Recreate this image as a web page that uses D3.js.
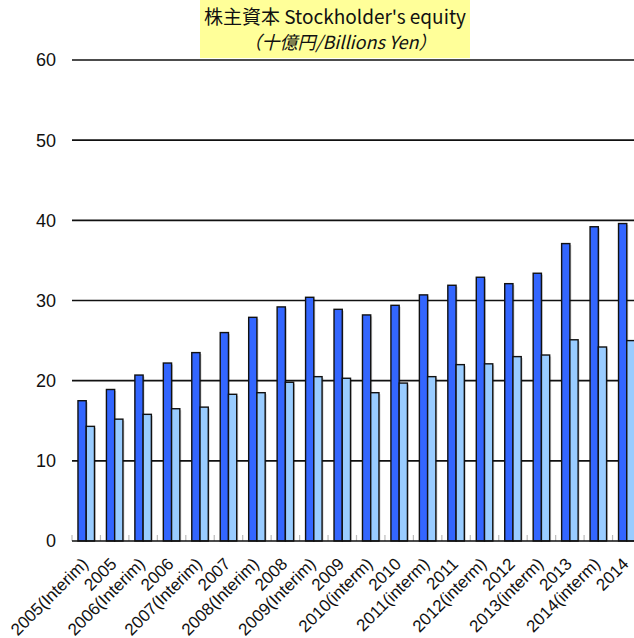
<!DOCTYPE html>
<html><head><meta charset="utf-8">
<script src="https://cdn.jsdelivr.net/npm/d3@7"></script>
<style>body{margin:0;background:#fff;overflow:hidden}svg{display:block}</style>
</head><body>
<script>
const categories = ["2005(Interim)","2005","2006(Interim)","2006","2007(Interim)","2007","2008(Interim)","2008","2009(Interim)","2009","2010(interm)","2010","2011(interm)","2011","2012(interm)","2012","2013(interm)","2013","2014(interm)","2014"];
const seriesDark = [17.5,18.9,20.7,22.2,23.5,26.0,27.9,29.2,30.4,28.9,28.2,29.4,30.7,31.9,32.9,32.1,33.4,37.1,39.2,39.6];
const seriesLight = [14.3,15.2,15.8,16.5,16.7,18.3,18.5,19.8,20.5,20.3,18.5,19.7,20.5,22.0,22.1,23.0,23.2,25.1,24.2,25.0];
const yTicks = [0,10,20,30,40,50,60];
const titleLine1 = "株主資本 Stockholder's equity";
const titleLine2 = "（十億円/Billions Yen）";

const W = 634, H = 638;
const left = 72, step = 28.45, right = left + step * categories.length;
const y0 = 541, yTop = 60;

const svg = d3.select("body").append("svg").attr("width", W).attr("height", H);

const x = d3.scaleBand().domain(categories).range([left, right]).paddingInner(0.42).paddingOuter(0.21);
const y = d3.scaleLinear().domain([0, 60]).range([y0, yTop]);
const keys = ["dark", "light"];
const x1 = d3.scaleBand().domain(keys).range([0, x.bandwidth()]);
const colors = {dark: "#3366FF", light: "#99CCFF"};

// gridlines
svg.append("g").selectAll("line").data(yTicks.filter(d => d > 0)).join("line")
  .attr("x1", left).attr("x2", W).attr("y1", d => y(d)).attr("y2", d => y(d))
  .attr("stroke", "#111").attr("stroke-width", 1.6);

// y labels
svg.append("g").selectAll("text").data(yTicks).join("text")
  .attr("x", 56).attr("y", d => y(d)).attr("dy", "0.36em").attr("text-anchor", "end")
  .attr("font-family", "Liberation Sans, Arial, sans-serif").attr("font-size", 18).attr("fill", "#111")
  .text(d => d);

// minor ticks at band boundaries
const bounds = d3.range(categories.length + 1).map(i => left + i * step);
svg.append("g").selectAll("line").data(bounds).join("line")
  .attr("x1", d => d).attr("x2", d => d).attr("y1", y0 - 6).attr("y2", y0)
  .attr("stroke", "#bbb").attr("stroke-width", 1.2);

const data = categories.map((c, i) => ({c, dark: seriesDark[i], light: seriesLight[i]}));

const g = svg.append("g");
data.forEach(d => {
  keys.forEach(k => {
    g.append("rect")
      .attr("x", x(d.c) + x1(k) + 1.5).attr("y", y(d[k]) + 1.5)
      .attr("width", x1.bandwidth()).attr("height", y0 - y(d[k]) - 1.5)
      .attr("fill", "#000").attr("opacity", 0.18);
  });
});
data.forEach(d => {
  keys.forEach(k => {
    g.append("rect")
      .attr("x", x(d.c) + x1(k)).attr("y", y(d[k]))
      .attr("width", x1.bandwidth()).attr("height", y0 - y(d[k]))
      .attr("fill", colors[k]).attr("stroke", "#111").attr("stroke-width", 1.4);
  });
});

// baseline
svg.append("line").attr("x1", left).attr("x2", W).attr("y1", y0).attr("y2", y0)
  .attr("stroke", "#111").attr("stroke-width", 1.6);

// x labels
svg.append("g").selectAll("text").data(categories).join("text")
  .attr("text-anchor", "end")
  .attr("transform", d => `translate(${x(d) + x.bandwidth() / 2 + 3},${y0 + 24}) rotate(-45)`)
  .attr("font-family", "Liberation Sans, Arial, sans-serif").attr("font-size", 17).attr("fill", "#111")
  .text(d => d);

// title
svg.append("rect").attr("x", 200).attr("y", 0).attr("width", 270).attr("height", 58).attr("fill", "#FFFF99");
svg.append("text").attr("x", 335).attr("y", 24).attr("text-anchor", "middle")
  .attr("font-family", "Noto Sans CJK JP, sans-serif").attr("font-size", 19).attr("fill", "#111")
  .text(titleLine1);
svg.append("text").attr("x", 340).attr("y", 49).attr("text-anchor", "middle")
  .attr("font-family", "Noto Sans CJK JP, sans-serif").attr("font-size", 18).attr("font-style", "italic").attr("fill", "#111")
  .text(titleLine2);
</script>
</body></html>
